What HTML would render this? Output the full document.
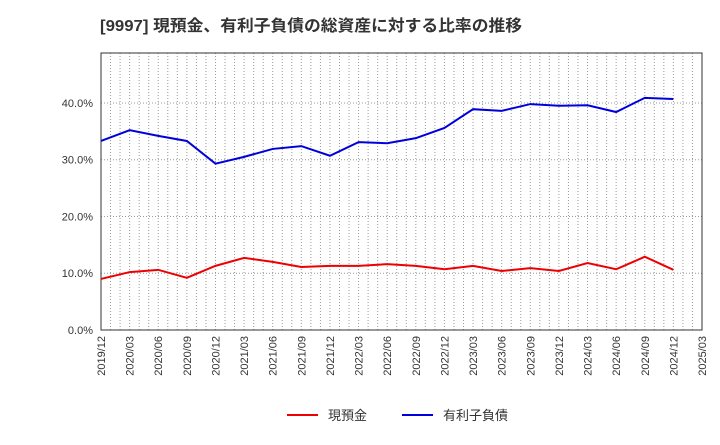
<!DOCTYPE html>
<html><head><meta charset="utf-8"><style>
body{margin:0;background:#fff;font-family:"Liberation Sans","Noto Sans CJK JP",sans-serif;}
</style></head><body>
<svg id="c" width="720" height="440" xmlns="http://www.w3.org/2000/svg">
<text x="100" y="31" font-size="16" font-weight="bold" fill="#333" textLength="422" lengthAdjust="spacingAndGlyphs" font-family="Liberation Sans, Noto Sans CJK JP, sans-serif">[9997]  現預金、有利子負債の総資産に対する比率の推移</text>
<g id="grid"></g><g id="axes"></g><g id="series"></g>
<g>
<line x1="287" y1="415" x2="318" y2="415" stroke="#e00" stroke-width="2"/>
<text x="328" y="420" font-size="13" fill="#333">現預金</text>
<line x1="402" y1="415" x2="433" y2="415" stroke="#00d" stroke-width="2"/>
<text x="443" y="420" font-size="13" fill="#333">有利子負債</text>
</g>
</svg>
<script>
const categories=["2019/12","2020/03","2020/06","2020/09","2020/12","2021/03","2021/06","2021/09","2021/12","2022/03","2022/06","2022/09","2022/12","2023/03","2023/06","2023/09","2023/12","2024/03","2024/06","2024/09","2024/12","2025/03"];
const cashValues=[9.0,10.2,10.6,9.2,11.3,12.7,12.0,11.1,11.3,11.3,11.6,11.3,10.7,11.3,10.4,10.9,10.4,11.8,10.7,12.9,10.6];
const debtValues=[33.3,35.2,34.2,33.3,29.3,30.5,31.9,32.4,30.7,33.1,32.9,33.8,35.6,38.9,38.6,39.8,39.5,39.6,38.4,40.9,40.7];
const yTicks=[0,10,20,30,40];
const ns="http://www.w3.org/2000/svg";
const L=101,R=702,T=53,B=330,yMax=48.8;
const xs=i=>L+(R-L)*i/(categories.length-1);
const ys=v=>B-(B-T)*v/yMax;
function mk(tag,attrs,parent){const e=document.createElementNS(ns,tag);for(const k in attrs)e.setAttribute(k,attrs[k]);parent.appendChild(e);return e;}
const grid=document.getElementById('grid'),axes=document.getElementById('axes'),ser=document.getElementById('series');
const nMonths=(categories.length-1)*3;
for(let m=1;m<nMonths;m++){
 const x=xs(m/3);
 const l=mk('line',{x1:x,x2:x,y1:T,y2:B,stroke:'#999','stroke-dasharray':'1,2'},grid);
 
 
}
categories.forEach((c,i)=>{
 const t=mk('text',{x:0,y:0,'font-size':11,fill:'#333','text-anchor':'end',transform:`translate(${xs(i)+4},${B+6}) rotate(-90)`},axes);
 t.textContent=c;
 
 
});
yTicks.forEach(v=>{
 if(v>0){
  const l=mk('line',{x1:L,x2:R,y1:ys(v),y2:ys(v),stroke:'#999','stroke-dasharray':'1,2'},grid);
  
  
 }
 const t=mk('text',{x:L-8,y:ys(v)+4,'font-size':11,fill:'#333','text-anchor':'end'},axes);
 t.textContent=v.toFixed(1)+'%';
 
 
});
const fr=mk('rect',{x:L,y:T,width:R-L,height:B-T,fill:'none',stroke:'#333'},axes);


function line(vals,color,name){
 const p=mk('polyline',{points:vals.map((v,i)=>xs(i)+','+ys(v)).join(' '),fill:'none',stroke:color,'stroke-width':2},ser);
 
 
}
line(cashValues,'#e00','cash-line');
line(debtValues,'#00d','debt-line');
</script>
</body></html>
